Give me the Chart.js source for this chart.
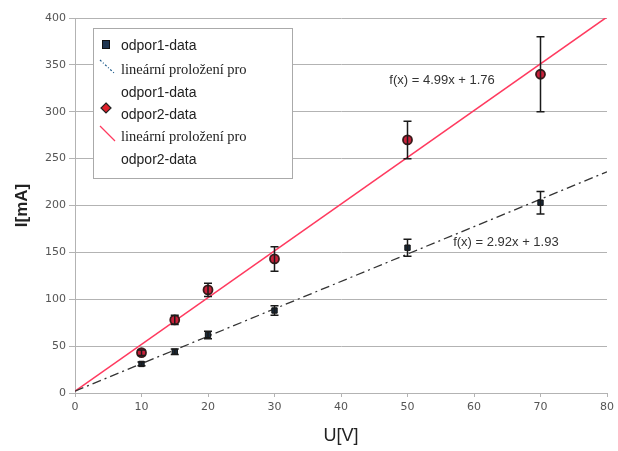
<!DOCTYPE html>
<html>
<head>
<meta charset="utf-8">
<script src="https://cdn.jsdelivr.net/npm/chart.js@4.4.0/dist/chart.umd.min.js"></script>
<style>
  html, body { margin: 0; padding: 0; background: #fff; }
  #wrap { width: 618px; height: 451px; }
</style>
</head>
<body>
<div id="wrap"><canvas id="graf"></canvas></div>
<script>
// namerene hodnoty
const napeti = [10, 15, 20, 30, 50, 70];
const proud1 = [31, 44, 62, 88, 155, 203];
const chyba1 = [2, 3, 4, 5, 9, 12];
const proud2 = [43, 78, 110, 143, 270, 340];
const chyba2 = [3, 5, 7, 13, 20, 40];

// linearni prolozeni - krajni body primek
const fitX = [0, 80];
const fit1Y = [2, 236];
const fit2Y = [2, 401];

const rovnice = ['f(x) = 4.99x + 1.76', 'f(x) = 2.92x + 1.93'];
const rovniceX = [55.2, 64.8];
const rovniceY = [333, 161];

const xTicks = [0, 10, 20, 30, 40, 50, 60, 70, 80];
const yTicks = [0, 50, 100, 150, 200, 250, 300, 350, 400];

const body = (xs, ys) => xs.map((x, i) => ({ x: x, y: ys[i] }));

// chybove useky
const errorBars = {
  id: 'errorBars',
  afterDatasetsDraw(chart) {
    const ctx = chart.ctx;
    const xs = chart.scales.x, ys = chart.scales.y;
    const serie = [[proud1, chyba1], [proud2, chyba2]];
    ctx.save();
    ctx.strokeStyle = '#1a1a1a';
    ctx.lineWidth = 1.5;
    serie.forEach(([vals, errs]) => {
      napeti.forEach((u, i) => {
        const px = xs.getPixelForValue(u);
        const top = ys.getPixelForValue(vals[i] + errs[i]);
        const bot = ys.getPixelForValue(vals[i] - errs[i]);
        ctx.beginPath();
        ctx.moveTo(px, top); ctx.lineTo(px, bot);
        ctx.moveTo(px - 4, top); ctx.lineTo(px + 4, top);
        ctx.moveTo(px - 4, bot); ctx.lineTo(px + 4, bot);
        ctx.stroke();
      });
    });
    ctx.restore();
  }
};

// rovnice primek
const popisky = {
  id: 'popisky',
  afterDatasetsDraw(chart) {
    const ctx = chart.ctx;
    ctx.save();
    ctx.font = '13px "Liberation Sans", Arial, sans-serif';
    ctx.fillStyle = '#333';
    ctx.textAlign = 'center';
    ctx.textBaseline = 'middle';
    rovnice.forEach((t, i) => {
      ctx.fillText(t, chart.scales.x.getPixelForValue(rovniceX[i]), chart.scales.y.getPixelForValue(rovniceY[i]));
    });
    ctx.restore();
  }
};

// legenda v ramecku
const legenda = {
  id: 'legenda',
  afterDraw(chart) {
    const ctx = chart.ctx;
    ctx.save();
    ctx.fillStyle = '#fff';
    ctx.strokeStyle = '#aaa';
    ctx.lineWidth = 1;
    ctx.fillRect(93.5, 28.5, 199, 150);
    ctx.strokeRect(93.5, 28.5, 199, 150);

    const sans = '14px "Liberation Sans", Arial, sans-serif';
    const serif = '14.5px "Liberation Serif", "Times New Roman", serif';
    ctx.fillStyle = '#222';
    ctx.textBaseline = 'alphabetic';
    ctx.textAlign = 'left';

    // odpor1 ctverec
    ctx.fillStyle = '#1f3550';
    ctx.fillRect(102, 40, 8, 9);
    ctx.strokeStyle = '#111';
    ctx.strokeRect(102.5, 40.5, 7, 8);
    ctx.fillStyle = '#222';
    ctx.font = sans;
    ctx.fillText('odpor1-data', 121, 50);

    // prolozeni 1
    ctx.strokeStyle = '#1c5a8a';
    ctx.lineWidth = 1.2;
    ctx.setLineDash([2, 2, 1, 2]);
    ctx.beginPath(); ctx.moveTo(100, 60); ctx.lineTo(114, 73); ctx.stroke();
    ctx.setLineDash([]);
    ctx.font = serif;
    ctx.fillText('lineární proložení pro', 121, 74);
    ctx.font = sans;
    ctx.fillText('odpor1-data', 121, 97);

    // odpor2 kosoctverec
    ctx.fillStyle = '#e0202a';
    ctx.strokeStyle = '#222';
    ctx.beginPath();
    ctx.moveTo(106, 103); ctx.lineTo(111, 108); ctx.lineTo(106, 113); ctx.lineTo(101, 108); ctx.closePath();
    ctx.fill(); ctx.stroke();
    ctx.fillStyle = '#222';
    ctx.fillText('odpor2-data', 121, 119);

    // prolozeni 2
    ctx.strokeStyle = '#ff3a5f';
    ctx.beginPath(); ctx.moveTo(100, 126); ctx.lineTo(115, 141); ctx.stroke();
    ctx.font = serif;
    ctx.fillText('lineární proložení pro', 121, 141);
    ctx.font = sans;
    ctx.fillText('odpor2-data', 121, 164);
    ctx.restore();
  }
};

const ctx = document.getElementById('graf').getContext('2d');
const graf = new Chart(ctx, {
  type: 'scatter',
  data: {
    datasets: [
      {
        label: 'lineární proložení pro odpor2-data',
        data: body(fitX, fit2Y),
        showLine: true,
        borderColor: '#ff3a5f',
        borderWidth: 1.6,
        pointRadius: 0,
        order: 4
      },
      {
        label: 'lineární proložení pro odpor1-data',
        data: body(fitX, fit1Y),
        showLine: true,
        borderColor: '#333',
        borderWidth: 1.3,
        borderDash: [9, 4, 2, 4],
        pointRadius: 0,
        order: 3
      },
      {
        label: 'odpor1-data',
        data: body(napeti, proud1),
        pointStyle: 'rect',
        pointRadius: 3.8,
        backgroundColor: '#1a2a3a',
        borderColor: '#111',
        borderWidth: 1,
        order: 2
      },
      {
        label: 'odpor2-data',
        data: body(napeti, proud2),
        pointStyle: 'circle',
        pointRadius: 4.5,
        backgroundColor: '#c8203a',
        borderColor: '#3a1a1a',
        borderWidth: 1.8,
        order: 1
      }
    ]
  },
  options: {
    responsive: true,
    maintainAspectRatio: false,
    animation: false,
    layout: { padding: { top: 18, right: 11, left: 0, bottom: 0 } },
    plugins: { legend: { display: false }, tooltip: { enabled: false } },
    scales: {
      x: {
        type: 'linear',
        min: 0, max: 80,
        afterBuildTicks: s => { s.ticks = xTicks.map(v => ({ value: v })); },
        afterFit: s => { s.height = 58; },
        grid: { drawOnChartArea: false, drawTicks: true, tickLength: 4, color: '#b3b3b3' },
        border: { color: '#b3b3b3' },
        ticks: { color: '#555', font: { family: 'DejaVu Sans', size: 11 }, padding: 4 },
        title: { display: true, text: 'U[V]', color: '#222', font: { family: 'Liberation Sans', size: 18 }, padding: { top: 2 } }
      },
      y: {
        type: 'linear',
        min: 0, max: 400,
        afterBuildTicks: s => { s.ticks = yTicks.map(v => ({ value: v })); },
        afterFit: s => { s.width = 75; },
        grid: { color: '#b3b3b3', tickLength: 6 },
        border: { color: '#b3b3b3' },
        ticks: { color: '#555', font: { family: 'DejaVu Sans', size: 11 }, padding: 3 },
        title: { display: true, text: 'I[mA]', color: '#222', font: { family: 'Liberation Sans', size: 17, weight: 'bold' }, padding: { top: 12, bottom: 8 } }
      }
    }
  },
  plugins: [errorBars, popisky, legenda]
});
</script>
</body>
</html>
